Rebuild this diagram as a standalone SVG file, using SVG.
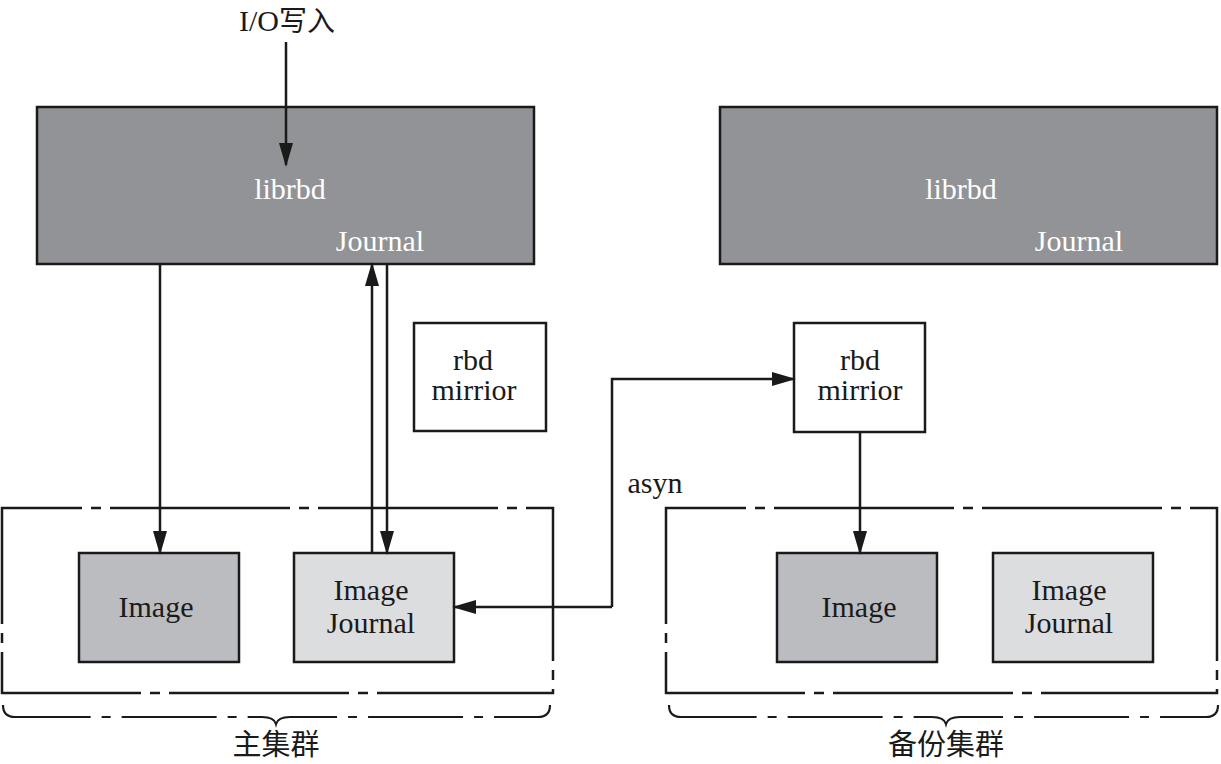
<svg xmlns="http://www.w3.org/2000/svg" width="1221" height="764" viewBox="0 0 1221 764">
<style>
  text { font-family: "Liberation Serif", "Noto Sans CJK SC", serif; font-size: 30px; fill: #1a1a1a; text-anchor: middle; }
  .wt { fill: #ffffff; }
  .lib { fill: #929396; stroke: #1a1a1a; stroke-width: 2.5; }
  .img { fill: #bbbcbf; stroke: #1a1a1a; stroke-width: 2.5; }
  .jr { fill: #dcdddf; stroke: #1a1a1a; stroke-width: 2.5; }
  .mir { fill: #ffffff; stroke: #1a1a1a; stroke-width: 2.5; }
  .grp { fill: none; stroke: #1a1a1a; stroke-width: 2.5; stroke-dasharray: 180 9 10 9; stroke-dashoffset: 100; }
  .brace { fill: none; stroke: #1a1a1a; stroke-width: 2.2; stroke-dasharray: 95 11 9 11; }
  .ln { fill: none; stroke: #1a1a1a; stroke-width: 2.5; }
  .cjk { font-family: "Noto Sans CJK SC", "Liberation Serif", sans-serif; font-size: 29px; }
</style>
<defs>
  <marker id="ah" viewBox="0 0 24 14" refX="22" refY="7" markerWidth="24" markerHeight="14" markerUnits="userSpaceOnUse" orient="auto">
    <path d="M0,0 L24,7 L0,14 z" fill="#1a1a1a"/>
  </marker>
</defs>

<g id="io-label">
  <text x="287" y="31">I/O<tspan style="font-family:'Noto Sans CJK SC',sans-serif;font-size:28px">写入</tspan></text>
</g>

<g id="group-primary">
  <rect class="grp" x="2" y="508" width="551" height="185"/>
  <path class="brace" d="M3,705 Q3,717 15,717 L262,717 Q274,717 276,724 Q278,717 290,717 L538,717 Q550,717 550,705"/>
  <text class="cjk" x="276" y="755">主集群</text>
</g>

<g id="group-backup">
  <rect class="grp" x="666" y="508" width="551" height="185"/>
  <path class="brace" d="M669,705 Q669,717 681,717 L932,717 Q944,717 946,724 Q948,717 960,717 L1206,717 Q1218,717 1218,705"/>
  <text class="cjk" x="946" y="755">备份集群</text>
</g>

<g id="librbd-primary">
  <rect class="lib" x="37" y="107" width="497" height="157"/>
  <text class="wt" x="290" y="199">librbd</text>
  <text class="wt" x="380" y="251">Journal</text>
</g>

<g id="librbd-backup">
  <rect class="lib" x="720" y="107" width="497" height="157"/>
  <text class="wt" x="961" y="199">librbd</text>
  <text class="wt" x="1079" y="251">Journal</text>
</g>

<g id="rbd-mirror-primary">
  <rect class="mir" x="414" y="323" width="132" height="108"/>
  <text x="473" y="370">rbd</text>
  <text x="474" y="400">mirrior</text>
</g>

<g id="rbd-mirror-backup">
  <rect class="mir" x="794" y="323" width="131" height="109"/>
  <text x="860" y="370">rbd</text>
  <text x="860" y="400">mirrior</text>
</g>

<g id="image-primary">
  <rect class="img" x="79" y="553" width="160" height="109"/>
  <text x="156" y="617">Image</text>
</g>

<g id="image-journal-primary">
  <rect class="jr" x="294" y="553" width="160" height="109"/>
  <text x="371" y="600">Image</text>
  <text x="371" y="633">Journal</text>
</g>

<g id="image-backup">
  <rect class="img" x="777" y="553" width="160" height="109"/>
  <text x="859" y="617">Image</text>
</g>

<g id="image-journal-backup">
  <rect class="jr" x="993" y="553" width="160" height="109"/>
  <text x="1069" y="600">Image</text>
  <text x="1069" y="633">Journal</text>
</g>

<g id="connectors">
  <line class="ln" x1="286" y1="42" x2="286" y2="165" marker-end="url(#ah)"/>
  <line class="ln" x1="160" y1="264" x2="160" y2="553" marker-end="url(#ah)"/>
  <line class="ln" x1="372" y1="553" x2="372" y2="264" marker-end="url(#ah)"/>
  <line class="ln" x1="387" y1="264" x2="387" y2="553" marker-end="url(#ah)"/>
  <polyline class="ln" points="612,607 612,379 794,379" marker-end="url(#ah)"/>
  <polyline class="ln" points="612,607 454,607" marker-end="url(#ah)"/>
  <line class="ln" x1="860" y1="432" x2="860" y2="553" marker-end="url(#ah)"/>
  <text x="655" y="493">asyn</text>
</g>
</svg>
